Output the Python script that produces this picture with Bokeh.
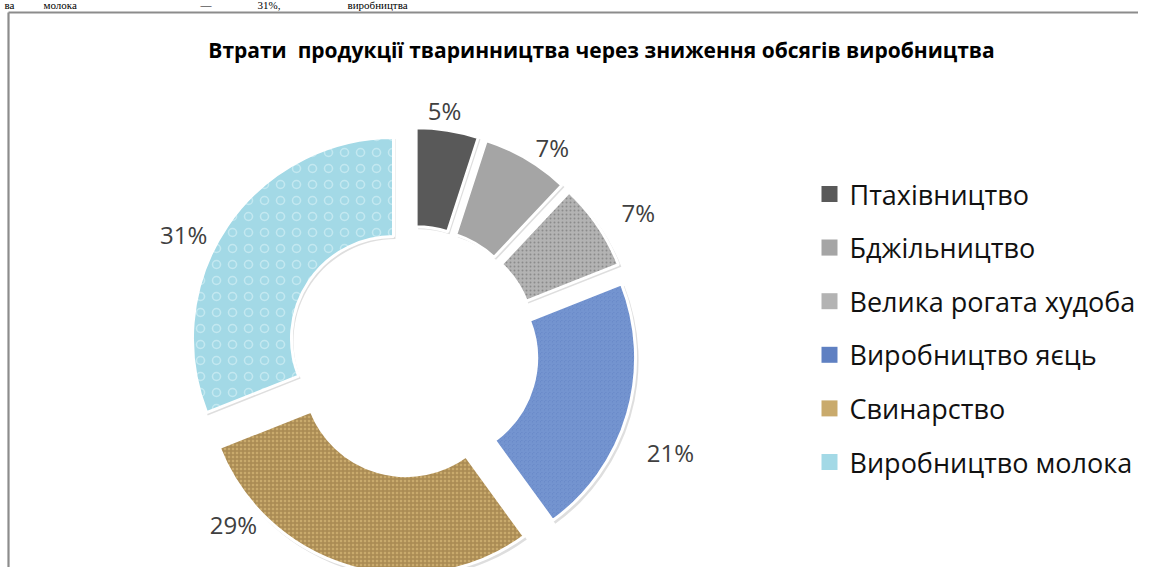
import numpy as np
from bokeh.plotting import figure
from bokeh.models import Range1d, ColumnDataSource
from bokeh.core.properties import value
from bokeh.embed import file_html
from bokeh.resources import INLINE

# ---------------- data ----------------
title = "Втрати\u00a0\u00a0продукції тваринництва через зниження обсягів виробництва"
categories = ["Птахівництво", "Бджільництво", "Велика рогата худоба",
              "Виробництво яєць", "Свинарство", "Виробництво молока"]
shares = [5, 7, 7, 21, 29, 31]  # percent
doc_words = ["ва", "молока", "—", "31%,", "виробництва"]  # document line above the chart

# ---------------- styles ----------------
fills = ["#595959", "#a5a5a5", "#b3b3b3", "#5f80c2", "#c9aa6c", "#a3d9e6"]
hatches = [None, None, "dot", "criss_cross", "cross", "ring"]
hatch_colors = ["#595959", "#a5a5a5", "#6a6a6a", "#8eaee0", "#806232", "#d8f1f7"]
hatch_scales = [6, 6, 4, 4, 4, 16]
hatch_alphas = [0, 0, 0.55, 0.45, 0.45, 0.6]

W, H = 1138, 567


def sx(x):  # screen -> data x
    return x


def sy(y):  # screen -> data y
    return H - y


CX, CY = sx(412), sy(351)
R_OUT, R_IN, EXPLODE = 201, 102, 23

p = figure(width=W, height=H, output_backend="svg", toolbar_location=None,
           x_range=Range1d(0, W), y_range=Range1d(0, H), min_border=0)
p.axis.visible = False
p.grid.visible = False
p.outline_line_color = None
p.background_fill_color = "white"
p.border_fill_color = "white"

# chart border (left and top edges visible)
p.multi_line(xs=[[sx(8), sx(8)], [sx(8), W + 20]],
             ys=[[sy(12), -20], [sy(12), sy(12)]],
             line_color="#8c8c8c", line_width=2.2)

# document line above the chart (shrunk to fit the strip)
doc_x = [4, 43, 200, 257, 347]
p.text(x=[sx(v) for v in doc_x], y=[sy(10)] * len(doc_words), text=doc_words,
       text_font=value("Liberation Serif"), text_font_size="11px",
       text_color="#000000", text_align="left", text_baseline="bottom")

vals = np.array(shares, dtype=float)
frac = vals / vals.sum()
cum_end = np.cumsum(frac)
cum_start = cum_end - frac
mid = (cum_start + cum_end) / 2 * 2 * np.pi  # clockwise from top
start_ang = np.pi / 2 - cum_end * 2 * np.pi
end_ang = np.pi / 2 - cum_start * 2 * np.pi
xs = CX + EXPLODE * np.sin(mid)
ys = CY + EXPLODE * np.cos(mid)

src = ColumnDataSource(dict(x=xs, y=ys, s=start_ang, e=end_ang,
                            fill=fills, hatch=[h if h else " " for h in hatches],
                            hc=hatch_colors, hs=hatch_scales, ha=hatch_alphas))
shadow = ColumnDataSource(dict(x=xs + 2, y=ys - 2.5, s=start_ang, e=end_ang))

p.annular_wedge(x="x", y="y", inner_radius=R_IN, outer_radius=R_OUT + 1,
                start_angle="s", end_angle="e", source=shadow,
                fill_color="#000000", fill_alpha=0.13, line_color=None)
p.annular_wedge(x="x", y="y", inner_radius=R_IN, outer_radius=R_OUT,
                start_angle="s", end_angle="e", source=src,
                fill_color="fill", line_color="white", line_width=3,
                hatch_pattern="hatch", hatch_color="hc", hatch_scale="hs",
                hatch_alpha="ha", hatch_weight=1.5)

# percentage labels (outside end, with small nudges)
lab_ang_nudge = np.radians([-1.4, 3.9, 2.6, 5.2, 29.8, -7.1])
lab_rad = np.array([243, 247, 265, 277, 249, 257])
la = mid + lab_ang_nudge
lx = CX + lab_rad * np.sin(la)
ly = CY + lab_rad * np.cos(la)
p.text(x=lx, y=ly, text=[f"{int(v)}%" for v in shares],
       text_font=value("Open Sans"), text_font_size="24px", text_color="#404040",
       text_align="center", text_baseline="middle")

# title
p.text(x=[sx(601)], y=[sy(49)], text=[title], text_font=value("Open Sans"),
       text_font_style="bold", text_font_size="21px", text_color="#000000",
       text_align="center", text_baseline="middle")

# legend
n = len(categories)
leg_y = sy(193.5) - np.arange(n) * 53.6
p.scatter(x=[sx(829)] * n, y=leg_y, marker="square", size=16,
          fill_color=fills, line_color=None)
p.text(x=[sx(849)] * n, y=leg_y, text=categories, text_font=value("Open Sans"),
       text_font_size="27px", text_color="#111111", text_align="left",
       text_baseline="middle")

open("out.html", "w").write(file_html(p, INLINE))
